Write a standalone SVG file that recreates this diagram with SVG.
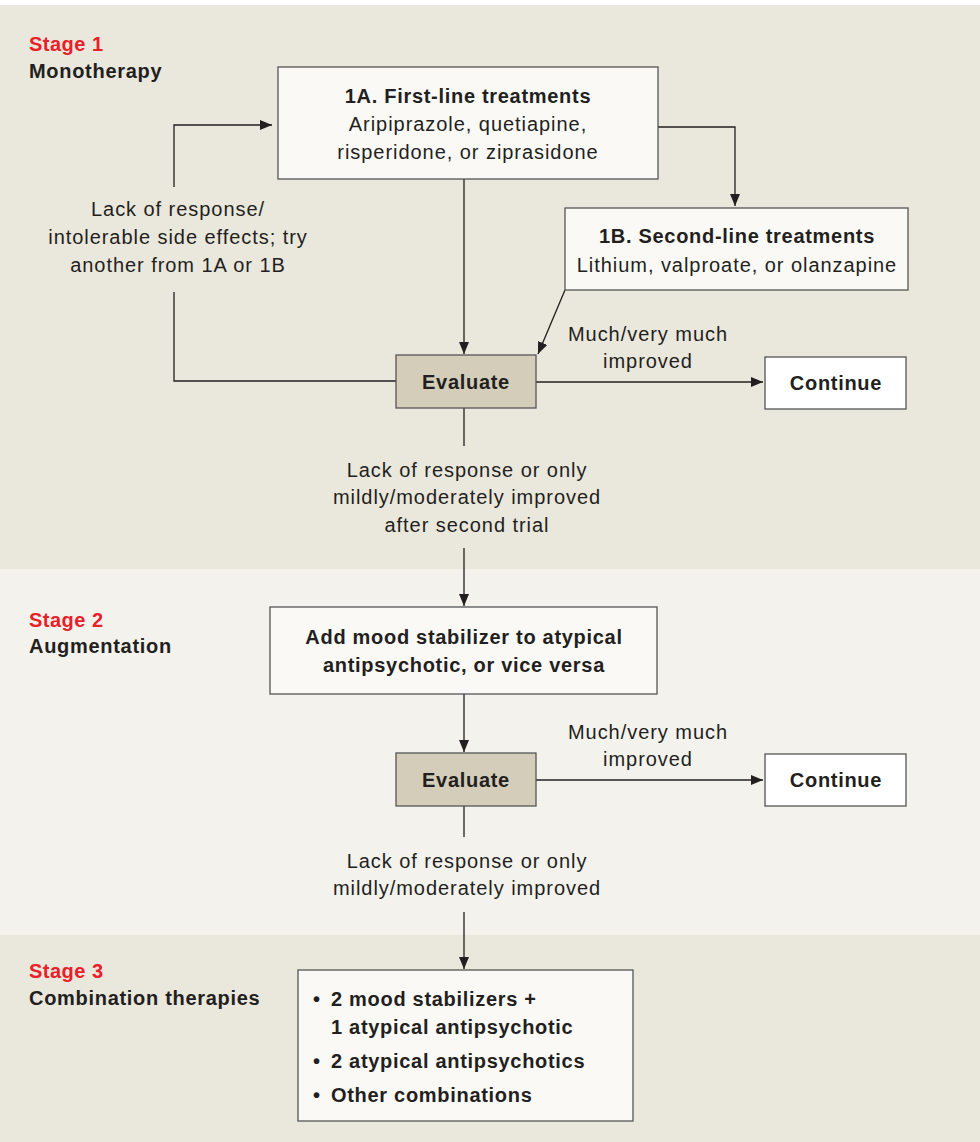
<svg xmlns="http://www.w3.org/2000/svg" width="980" height="1142" viewBox="0 0 980 1142">
<defs>
<marker id="ah" viewBox="0 0 12 10" refX="12" refY="5" markerWidth="12" markerHeight="10" markerUnits="userSpaceOnUse" orient="auto">
<path d="M0,0 L12,5 L0,10 z" fill="#231f20"/>
</marker>
<style>
text{font-family:"Liberation Sans",Arial,sans-serif;fill:#231f20;font-size:20px;letter-spacing:0.95px}
.b{font-weight:bold;letter-spacing:0.7px}
.c{text-anchor:middle}
.red{fill:#e8202a;font-weight:bold;letter-spacing:0.5px}
.box{fill:#faf9f6;stroke:#555;stroke-width:1.3}
.wbox{fill:#ffffff;stroke:#555;stroke-width:1.3}
.ev{fill:#d3cdb9;stroke:#555;stroke-width:1.3}
.ln{fill:none;stroke:#231f20;stroke-width:1.3}
</style>
</defs>
<rect x="0" y="0" width="980" height="1142" fill="#ffffff"/>
<rect x="0" y="5" width="980" height="564" fill="#eae7dc"/>
<rect x="0" y="569" width="980" height="366" fill="#f3f2ed"/>
<rect x="0" y="935" width="980" height="207" fill="#eae7dc"/>

<g id="stage-labels">
<text class="red" x="29" y="51">Stage 1</text>
<text class="b" x="29" y="78">Monotherapy</text>
<text class="red" x="29" y="627">Stage 2</text>
<text class="b" x="29" y="653">Augmentation</text>
<text class="red" x="29" y="978">Stage 3</text>
<text class="b" x="29" y="1005">Combination therapies</text>
</g>

<g id="connectors">
<path class="ln" d="M658,127 H735 V206" marker-end="url(#ah)"/>
<path class="ln" d="M464,179 V354" marker-end="url(#ah)"/>
<path class="ln" d="M565,290 L538,354" marker-end="url(#ah)"/>
<path class="ln" d="M396,381 H174 V292"/>
<path class="ln" d="M174,187 V125 H272" marker-end="url(#ah)"/>
<path class="ln" d="M536,382 H763" marker-end="url(#ah)"/>
<path class="ln" d="M464,408 V446"/>
<path class="ln" d="M464,548 V606" marker-end="url(#ah)"/>
<path class="ln" d="M464,694 V752" marker-end="url(#ah)"/>
<path class="ln" d="M536,780 H763" marker-end="url(#ah)"/>
<path class="ln" d="M464,806 V837"/>
<path class="ln" d="M464,912 V969" marker-end="url(#ah)"/>
</g>

<g id="connector-labels">
<text class="c" x="178" y="216">Lack of response/</text>
<text class="c" x="178" y="244">intolerable side effects; try</text>
<text class="c" x="178" y="272">another from 1A or 1B</text>
<text class="c" x="648" y="341">Much/very much</text>
<text class="c" x="648" y="368">improved</text>
<text class="c" x="467" y="477">Lack of response or only</text>
<text class="c" x="467" y="504">mildly/moderately improved</text>
<text class="c" x="467" y="532">after second trial</text>
<text class="c" x="648" y="739">Much/very much</text>
<text class="c" x="648" y="766">improved</text>
<text class="c" x="467" y="868">Lack of response or only</text>
<text class="c" x="467" y="895">mildly/moderately improved</text>
</g>

<g id="node-1a">
<rect class="box" x="278" y="67" width="380" height="112"/>
<text class="b c" x="468" y="103">1A. First-line treatments</text>
<text class="c" x="468" y="131">Aripiprazole, quetiapine,</text>
<text class="c" x="468" y="159">risperidone, or ziprasidone</text>
</g>

<g id="node-1b">
<rect class="box" x="565" y="208" width="343" height="82"/>
<text class="b c" x="737" y="243">1B. Second-line treatments</text>
<text class="c" x="737" y="272">Lithium, valproate, or olanzapine</text>
</g>

<g id="node-evaluate1">
<rect class="ev" x="396" y="355" width="140" height="53"/>
<text class="b c" x="466" y="389">Evaluate</text>
</g>

<g id="node-continue1">
<rect class="wbox" x="765" y="357" width="141" height="52"/>
<text class="b c" x="836" y="390">Continue</text>
</g>

<g id="node-augment">
<rect class="box" x="270" y="607" width="387" height="87"/>
<text class="b c" x="464" y="644">Add mood stabilizer to atypical</text>
<text class="b c" x="464" y="672">antipsychotic, or vice versa</text>
</g>

<g id="node-evaluate2">
<rect class="ev" x="396" y="753" width="140" height="53"/>
<text class="b c" x="466" y="787">Evaluate</text>
</g>

<g id="node-continue2">
<rect class="wbox" x="765" y="754" width="141" height="52"/>
<text class="b c" x="836" y="787">Continue</text>
</g>

<g id="node-combination">
<rect class="box" x="298" y="970" width="335" height="151"/>
<text class="b" x="313" y="1006">•</text>
<text class="b" x="331" y="1006">2 mood stabilizers +</text>
<text class="b" x="331" y="1034">1 atypical antipsychotic</text>
<text class="b" x="313" y="1068">•</text>
<text class="b" x="331" y="1068">2 atypical antipsychotics</text>
<text class="b" x="313" y="1102">•</text>
<text class="b" x="331" y="1102">Other combinations</text>
</g>
</svg>
